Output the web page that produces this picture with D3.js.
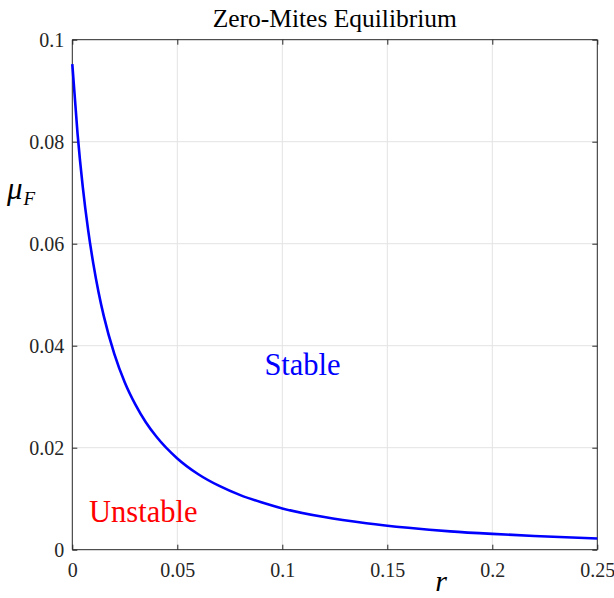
<!doctype html>
<html>
<head>
<meta charset="UTF-8">
<title>Zero-Mites Equilibrium</title>
<script src="https://d3js.org/d3.v7.min.js"></script>
<style>
  body { margin: 0; background: #fff; }
  svg text { font-family: "Liberation Serif", "Times New Roman", Times, "DejaVu Serif", serif; }
</style>
</head>
<body>
<script>
// curve values
var rVals  = [0, 0.0025, 0.005, 0.0075, 0.01, 0.0125, 0.015, 0.02, 0.025, 0.03, 0.035, 0.04, 0.05, 0.06, 0.07, 0.08, 0.09, 0.1, 0.12, 0.14, 0.16, 0.18, 0.2, 0.22, 0.25];
var muVals = [0.0952, 0.0816, 0.0711, 0.0628, 0.0561, 0.0505, 0.0458, 0.0384, 0.0328, 0.0285, 0.025, 0.0222, 0.0179, 0.0148, 0.0125, 0.0107, 0.0093, 0.0081, 0.0064, 0.0052, 0.0043, 0.0036, 0.0031, 0.0027, 0.0022];
var xTicks = [0, 0.05, 0.1, 0.15, 0.2, 0.25];
var yTicks = [0, 0.02, 0.04, 0.06, 0.08, 0.1];

var W = 614, H = 598;
var L = 72.3, R = 597.3, T = 39.7, B = 549.7;
var FONT = '"Liberation Serif", "Times New Roman", Times, "DejaVu Serif", serif';

var svg = d3.select("body").append("svg").attr("width", W).attr("height", H)
  .attr("font-family", FONT);

var x = d3.scaleLinear().domain([0, 0.25]).range([L, R]);
var y = d3.scaleLinear().domain([0, 0.1]).range([B, T]);

// grid
svg.append("g").selectAll("line").data(xTicks.slice(1, -1)).enter().append("line")
  .attr("x1", d => x(d)).attr("x2", d => x(d)).attr("y1", T).attr("y2", B)
  .attr("stroke", "#e3e3e3").attr("stroke-width", 1);
svg.append("g").selectAll("line").data(yTicks.slice(1, -1)).enter().append("line")
  .attr("y1", d => y(d)).attr("y2", d => y(d)).attr("x1", L).attr("x2", R)
  .attr("stroke", "#e3e3e3").attr("stroke-width", 1);

// axes, ticks pointing in
var fmt = d => String(+d.toFixed(3));
var axB = svg.append("g").attr("transform", "translate(0," + B + ")")
  .call(d3.axisBottom(x).tickValues(xTicks).tickSize(-5).tickPadding(13).tickFormat(fmt));
var axL = svg.append("g").attr("transform", "translate(" + L + ",0)")
  .call(d3.axisLeft(y).tickValues(yTicks).tickSize(-5).tickPadding(8).tickFormat(fmt));
var axT = svg.append("g").attr("transform", "translate(0," + T + ")")
  .call(d3.axisTop(x).tickValues(xTicks).tickSize(-5).tickFormat(""));
var axR = svg.append("g").attr("transform", "translate(" + R + ",0)")
  .call(d3.axisRight(y).tickValues(yTicks).tickSize(-5).tickFormat(""));
[axB, axL, axT, axR].forEach(function (a) {
  a.attr("font-family", FONT).attr("font-size", 20);
  a.selectAll(".domain").attr("stroke", "#262626").attr("stroke-width", 1);
  a.selectAll(".tick line").attr("stroke", "#262626");
  a.selectAll("text").attr("fill", "#262626");
});
axB.selectAll(".domain").attr("d", "M" + L + ",0H" + R);
axL.selectAll(".domain").attr("d", "M0," + B + "V" + T);
axT.selectAll(".domain").attr("d", "M" + L + ",0H" + R);
axR.selectAll(".domain").attr("d", "M0," + B + "V" + T);

// curve
var pts = rVals.map((r, i) => [r, muVals[i]]);
svg.append("path").datum(pts)
  .attr("fill", "none").attr("stroke", "#0000ff").attr("stroke-width", 2.6)
  .attr("d", d3.line().x(d => x(d[0])).y(d => y(d[1])).curve(d3.curveMonotoneX));

// labels
svg.append("text").attr("x", (L + R) / 2).attr("y", 27).attr("text-anchor", "middle")
  .attr("font-size", 25.5).attr("fill", "#000").text("Zero-Mites Equilibrium");
svg.append("text").attr("x", 302.5).attr("y", 375).attr("text-anchor", "middle")
  .attr("font-size", 30.5).attr("fill", "#0000ff").text("Stable");
svg.append("text").attr("x", 143.3).attr("y", 522).attr("text-anchor", "middle")
  .attr("font-size", 30.5).attr("fill", "#ff0000").text("Unstable");

svg.append("text").attr("x", 441).attr("y", 591).attr("text-anchor", "middle")
  .attr("font-size", 30).attr("font-style", "italic").text("r");

var mu = svg.append("text").attr("x", 7).attr("y", 199).attr("font-size", 31).attr("font-style", "italic");
mu.append("tspan").text("\u03bc");
mu.append("tspan").attr("dx", 1).attr("dy", 6).attr("font-size", 19).text("F");
</script>
</body>
</html>
